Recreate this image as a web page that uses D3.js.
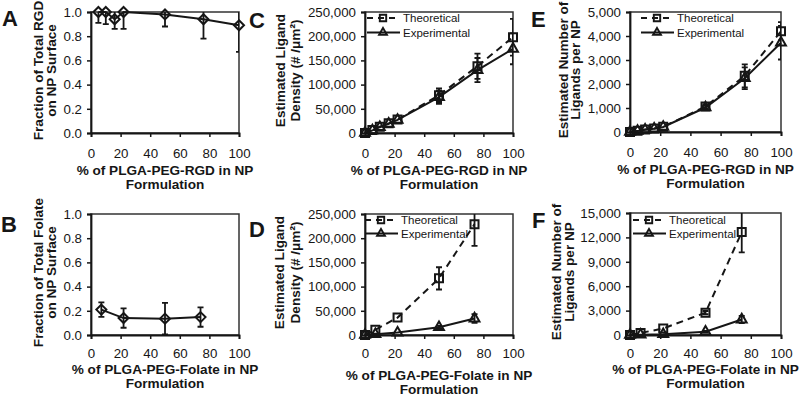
<!DOCTYPE html>
<html>
<head>
<meta charset="utf-8">
<script src="https://cdn.jsdelivr.net/npm/d3@7"></script>
<style>
body { margin: 0; background: #fff; }
svg { font-family: Arial, "Liberation Sans", sans-serif; }
</style>
</head>
<body>
<div id="visualization"></div>
<script>
// % of ligand polymer in the formulation (x values)
var rgdPct = [5, 10, 16, 22, 50, 76, 100]
var rgdPctAll = [0, 5, 10, 16, 22, 50, 76, 100]
var folPct = [7, 22, 50, 74]
var folPctAll = [0, 7, 22, 50, 74]

// A - fraction of total RGD on surface
var rgdFrac = [1.0, 1.0, 0.94, 1.0, 0.98, 0.94, 0.89]
var rgdFracErr = [0.09, 0.10, 0.08, 0.14, 0.10, 0.16, 0.22]

// B - fraction of total folate on surface
var folFrac = [0.21, 0.14, 0.135, 0.148]
var folFracErr = [0.06, 0.08, 0.13, 0.08]

// C - RGD ligand density
var rgdDensTheo = [0, 6000, 13000, 20000, 28000, 78000, 138000, 198000]
var rgdDensTheoErr = [0, 0, 0, 0, 0, 14000, 26000, 38000]
var rgdDensExp = [0, 5500, 12000, 19000, 27000, 74000, 130000, 174000]
var rgdDensExpErr = [0, 0, 0, 0, 0, 14000, 25000, 32000]

// D - folate ligand density
var folDensTheo = [0, 11000, 36000, 117000, 229000]
var folDensTheoErr = [0, 0, 0, 23000, 45000]
var folDensExp = [0, 1500, 5000, 16000, 34000]
var folDensExpErr = [0, 0, 0, 3000, 9000]

// E - RGD ligands per NP
var rgdNumTheo = [0, 50, 100, 150, 220, 1060, 2340, 4200]
var rgdNumTheoErr = [0, 0, 0, 0, 0, 80, 480, 380]
var rgdNumExp = [0, 45, 95, 140, 210, 1020, 2240, 3720]
var rgdNumExpErr = [0, 0, 0, 0, 0, 80, 450, 700]

// F - folate ligands per NP
var folNumTheo = [0, 250, 800, 2750, 12650]
var folNumTheoErr = [0, 0, 0, 200, 2500]
var folNumExp = [0, 30, 100, 400, 1900]
var folNumExpErr = [0, 0, 0, 100, 450]

// tick labels
var xTicks = [0, 20, 40, 60, 80, 100]
var fracTicks = [0, 0.2, 0.4, 0.6, 0.8, 1.0]
var densTicks = [0, 50000, 100000, 150000, 200000, 250000]
var rgdNumTicks = [0, 1000, 2000, 3000, 4000, 5000]
var folNumTicks = [0, 3000, 6000, 9000, 12000, 15000]

var legendNames = ['Theoretical', 'Experimental']

const ink = '#161616'

const svg = d3.select('#visualization')
    .append('svg')
    .attr('width', 800)
    .attr('height', 400)

const defs = svg.append('defs')

function markerPath(shape) {
    if (shape == 'square') return d3.symbol(d3.symbolSquare, 64)()
    if (shape == 'triangle') return d3.symbol(d3.symbolTriangle, 42)()
    // diamond = square turned 45deg
    return 'M0,-5L5,0L0,5L-5,0Z'
}

function panel(cfg) {
    const g = svg.append('g').attr('transform', `translate(${cfg.left},${cfg.top})`)
    const x = d3.scaleLinear().domain([0, 100]).range([0, cfg.width])
    const y = d3.scaleLinear().domain([0, cfg.yTicks[cfg.yTicks.length - 1]]).range([cfg.height, 0])

    defs.append('clipPath').attr('id', 'clip' + cfg.letter)
        .append('rect').attr('width', cfg.width).attr('height', cfg.height)

    // box
    g.append('rect')
        .attr('width', cfg.width).attr('height', cfg.height)
        .attr('fill', 'none').attr('stroke', '#333').attr('stroke-width', 1.5)

    const xAxis = g.append('g')
        .attr('transform', `translate(0,${cfg.height})`)
        .call(d3.axisBottom(x).tickValues(xTicks).tickSize(4).tickPadding(cfg.xPad).tickFormat(d3.format('d')))
    const yAxis = g.append('g')
        .call(d3.axisLeft(y).tickValues(cfg.yTicks).tickSize(4).tickPadding(5).tickFormat(cfg.fmt))
    ;[xAxis, yAxis].forEach(a => {
        a.selectAll('path').attr('stroke', ink).attr('stroke-width', 1.8)
        a.selectAll('line').attr('stroke', ink).attr('stroke-width', 1.5)
        a.selectAll('text').attr('font-size', '13.3px').attr('fill', ink)
    })

    cfg.series.forEach(s => {
        const pts = s.x.map((v, i) => ({ x: v, y: s.y[i], e: s.err[i] }))

        // error bars (clipped to plot box)
        const eb = g.append('g').attr('clip-path', `url(#clip${cfg.letter})`)
        pts.filter(p => p.e > 0).forEach(p => {
            const px = x(p.x), hi = y(p.y + p.e), lo = y(p.y - p.e)
            eb.append('path')
                .attr('d', `M${px - 3},${hi}H${px + 3}M${px},${hi}V${lo}M${px - 3},${lo}H${px + 3}`)
                .attr('stroke', ink).attr('stroke-width', 1.8).attr('fill', 'none')
        })

        g.append('path').datum(pts)
            .attr('d', d3.line().x(d => x(d.x)).y(d => y(d.y)))
            .attr('fill', 'none').attr('stroke', ink).attr('stroke-width', 2)
            .attr('stroke-dasharray', s.dash ? '7,5' : null)

        g.selectAll(null).data(pts).enter().append('path')
            .attr('transform', d => `translate(${x(d.x)},${y(d.y)})`)
            .attr('d', markerPath(s.shape))
            .attr('fill', 'none').attr('stroke', ink).attr('stroke-width', 2)
    })

    // legend
    if (cfg.legend) {
        const lg = cfg.legend
        cfg.series.forEach((s, i) => {
            const ly = lg.y + i * lg.step
            g.append('line')
                .attr('x1', lg.x).attr('x2', lg.x + 33).attr('y1', ly).attr('y2', ly)
                .attr('stroke', ink).attr('stroke-width', 2)
                .attr('stroke-dasharray', s.dash ? '6,5' : null)
            g.append('path')
                .attr('transform', `translate(${lg.x + 16},${ly})` + ' scale(0.8)')
                .attr('d', markerPath(s.shape))
                .attr('fill', 'none').attr('stroke', ink).attr('stroke-width', 2.4)
            g.append('text')
                .attr('x', lg.x + 36).attr('y', ly).attr('dy', '0.35em')
                .attr('font-size', '11.5px').attr('fill', ink)
                .text(legendNames[i])
        })
    }

    // y title (two rotated lines)
    cfg.yTitle.forEach((t, i) => {
        g.append('text')
            .attr('transform', `translate(${cfg.yTitleX[i]},${cfg.height / 2 - 2}) rotate(-90)`)
            .attr('text-anchor', 'middle').attr('dy', '0.35em')
            .attr('font-size', '13.6px').attr('font-weight', 'bold').attr('fill', ink)
            .text(t)
    })

    // x title (two lines)
    cfg.xTitle.forEach((t, i) => {
        g.append('text')
            .attr('x', cfg.width / 2).attr('y', cfg.height + cfg.xTitleY + i * 14.5)
            .attr('text-anchor', 'middle').attr('dy', '0.35em')
            .attr('font-size', '13.6px').attr('font-weight', 'bold').attr('fill', ink)
            .text(t)
    })

    svg.append('text')
        .attr('x', cfg.letterPos[0]).attr('y', cfg.letterPos[1])
        .attr('font-size', '22px').attr('font-weight', 'bold').attr('fill', ink)
        .text(cfg.letter)
}

const fracFmt = d3.format('.1f')
const numFmt = d3.format(',')

panel({
    letter: 'A', letterPos: [2, 26], left: 91, top: 12, width: 148, height: 121,
    yTicks: fracTicks, fmt: fracFmt, xPad: 12,
    series: [{ x: rgdPct, y: rgdFrac, err: rgdFracErr, shape: 'diamond' }],
    yTitle: ['Fraction of Total RGD', 'on NP Surface'], yTitleX: [-53, -40],
    xTitle: ['% of PLGA-PEG-RGD in NP', 'Formulation'], xTitleY: 37
})

panel({
    letter: 'B', letterPos: [1, 232], left: 91, top: 214, width: 148, height: 121,
    yTicks: fracTicks, fmt: fracFmt, xPad: 10,
    series: [{ x: folPct, y: folFrac, err: folFracErr, shape: 'diamond' }],
    yTitle: ['Fraction of Total Folate', 'on NP Surface'], yTitleX: [-53, -40],
    xTitle: ['% of PLGA-PEG-Folate in NP', 'Formulation'], xTitleY: 34
})

panel({
    letter: 'C', letterPos: [249, 28], left: 365, top: 12, width: 148, height: 121,
    yTicks: densTicks, fmt: numFmt, xPad: 12,
    series: [
        { x: rgdPctAll, y: rgdDensTheo, err: rgdDensTheoErr, shape: 'square', dash: true },
        { x: rgdPctAll, y: rgdDensExp, err: rgdDensExpErr, shape: 'triangle' }
    ],
    legend: { x: 2, y: 6, step: 14.5 },
    yTitle: ['Estimated Ligand', 'Density (# /μm²)'], yTitleX: [-85, -70],
    xTitle: ['% of PLGA-PEG-RGD in NP', 'Formulation'], xTitleY: 37
})

panel({
    letter: 'D', letterPos: [249, 237], left: 365, top: 214, width: 148, height: 121,
    yTicks: densTicks, fmt: numFmt, xPad: 10,
    series: [
        { x: folPctAll, y: folDensTheo, err: folDensTheoErr, shape: 'square', dash: true },
        { x: folPctAll, y: folDensExp, err: folDensExpErr, shape: 'triangle' }
    ],
    legend: { x: 0, y: 6, step: 13.5 },
    yTitle: ['Estimated Ligand', 'Density (# /μm²)'], yTitleX: [-86, -70],
    xTitle: ['% of PLGA-PEG-Folate in NP', 'Formulation'], xTitleY: 40
})

panel({
    letter: 'E', letterPos: [531, 27], left: 630, top: 12, width: 151, height: 120,
    yTicks: rgdNumTicks, fmt: numFmt, xPad: 12,
    series: [
        { x: rgdPctAll, y: rgdNumTheo, err: rgdNumTheoErr, shape: 'square', dash: true },
        { x: rgdPctAll, y: rgdNumExp, err: rgdNumExpErr, shape: 'triangle' }
    ],
    legend: { x: 11, y: 6, step: 14.5 },
    yTitle: ['Estimated Number of', 'Ligands per NP'], yTitleX: [-67, -55],
    xTitle: ['% of PLGA-PEG-RGD in NP', 'Formulation'], xTitleY: 37
})

panel({
    letter: 'F', letterPos: [532, 228], left: 630, top: 213, width: 151, height: 122,
    yTicks: folNumTicks, fmt: numFmt, xPad: 10,
    series: [
        { x: folPctAll, y: folNumTheo, err: folNumTheoErr, shape: 'square', dash: true },
        { x: folPctAll, y: folNumExp, err: folNumExpErr, shape: 'triangle' }
    ],
    legend: { x: 3, y: 7, step: 13.5 },
    yTitle: ['Estimated Number of', 'Ligands  per NP'], yTitleX: [-74, -61],
    xTitle: ['% of PLGA-PEG-Folate in NP', 'Formulation'], xTitleY: 34
})
</script>
</body>
</html>
